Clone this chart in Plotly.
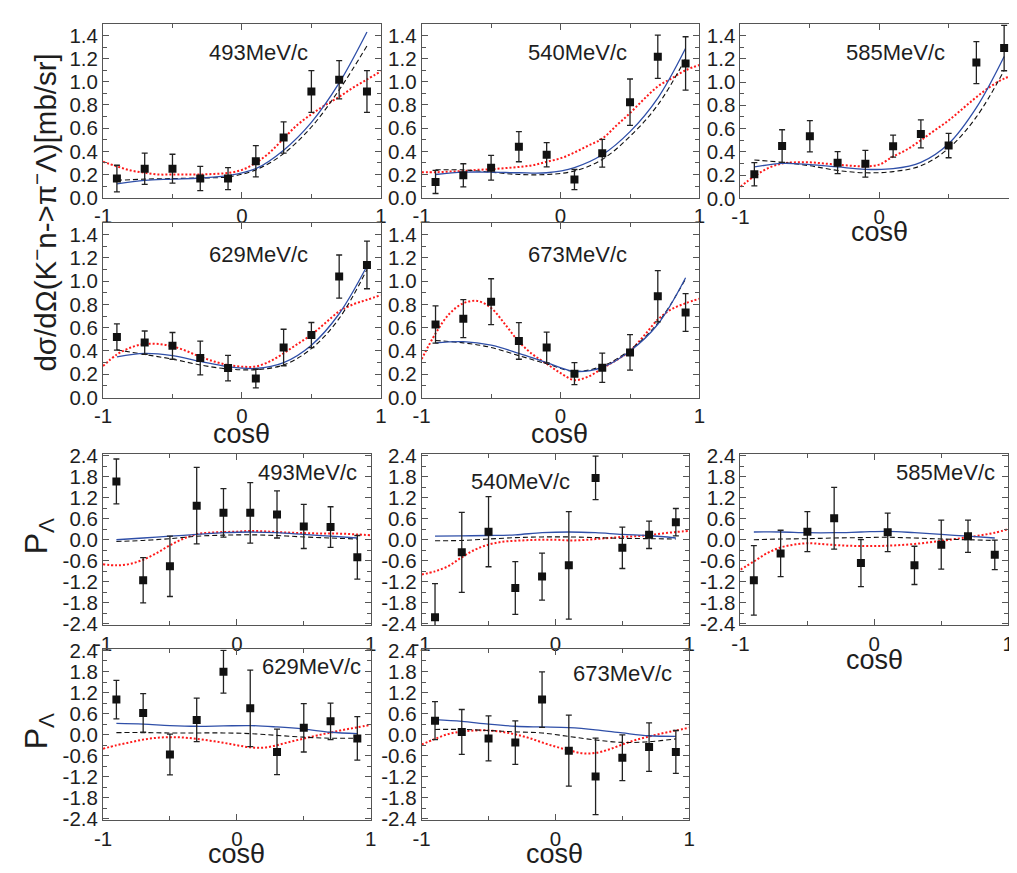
import plotly.graph_objects as go

# ---------------- data ----------------
cos_pts = [-0.9, -0.7, -0.5, -0.3, -0.1, 0.1, 0.3, 0.5, 0.7, 0.9]
theory_x = [-0.9, -0.7, -0.5, -0.3, -0.1, 0.1, 0.3, 0.5, 0.7, 0.9]
red_x = [-1.0, -0.9, -0.8, -0.7, -0.6, -0.5, -0.4, -0.3, -0.2, -0.1, 0.0,
         0.1, 0.2, 0.3, 0.4, 0.5, 0.6, 0.7, 0.8, 0.9, 1.0]
momenta = ["493MeV/c", "540MeV/c", "585MeV/c", "629MeV/c", "673MeV/c"]

# differential cross sections [mb/sr]
cs_493_y = [0.165, 0.25, 0.25, 0.165, 0.165, 0.315, 0.52, 0.917, 1.017, 0.917]
cs_493_err = [0.115, 0.135, 0.125, 0.105, 0.095, 0.135, 0.135, 0.18, 0.165, 0.18]
cs_540_y = [0.136, 0.193, 0.258, 0.44, 0.37, 0.156, 0.383, 0.824, 1.216, 1.159]
cs_540_err = [0.1, 0.1, 0.107, 0.13, 0.105, 0.087, 0.12, 0.2, 0.187, 0.23]
cs_585_y = [0.207, 0.45, 0.534, 0.307, 0.298, 0.449, 0.554, 0.454, 1.167, 1.292]
cs_585_err = [0.1, 0.14, 0.135, 0.095, 0.115, 0.095, 0.12, 0.105, 0.18, 0.195]
cs_629_y = [0.52, 0.472, 0.444, 0.34, 0.253, 0.163, 0.43, 0.537, 1.04, 1.14]
cs_629_err = [0.113, 0.1, 0.115, 0.145, 0.11, 0.08, 0.157, 0.108, 0.185, 0.205]
cs_673_y = [0.627, 0.678, 0.824, 0.486, 0.43, 0.205, 0.256, 0.388, 0.871, 0.731]
cs_673_err = [0.16, 0.163, 0.197, 0.157, 0.133, 0.095, 0.126, 0.152, 0.22, 0.162]

cs_493_blue = [0.12, 0.15, 0.16, 0.17, 0.19, 0.25, 0.41, 0.65, 0.99, 1.43]
cs_493_black = [0.15, 0.16, 0.165, 0.17, 0.18, 0.24, 0.38, 0.61, 0.93, 1.31]
cs_493_red = [0.31, 0.27, 0.235, 0.215, 0.2, 0.2, 0.2, 0.2, 0.205, 0.213, 0.24,
              0.3, 0.39, 0.51, 0.63, 0.72, 0.8, 0.87, 0.95, 1.02, 1.09]
cs_540_blue = [0.2, 0.22, 0.22, 0.215, 0.215, 0.26, 0.37, 0.57, 0.86, 1.29]
cs_540_black = [0.24, 0.24, 0.22, 0.2, 0.2, 0.23, 0.33, 0.53, 0.8, 1.2]
cs_540_red = [0.22, 0.22, 0.225, 0.23, 0.24, 0.245, 0.255, 0.265, 0.28, 0.31, 0.34,
              0.39, 0.45, 0.51, 0.62, 0.73, 0.85, 0.96, 1.03, 1.1, 1.145]
cs_585_blue = [0.27, 0.3, 0.29, 0.27, 0.25, 0.255, 0.31, 0.47, 0.78, 1.22]
cs_585_black = [0.33, 0.31, 0.28, 0.24, 0.22, 0.23, 0.28, 0.43, 0.7, 1.1]
cs_585_red = [0.1, 0.19, 0.26, 0.3, 0.31, 0.31, 0.3, 0.29, 0.28, 0.275, 0.29,
              0.36, 0.42, 0.5, 0.585, 0.67, 0.77, 0.87, 0.96, 1.03, 1.075]
cs_629_blue = [0.35, 0.38, 0.36, 0.31, 0.265, 0.25, 0.3, 0.45, 0.72, 1.13]
cs_629_black = [0.41, 0.37, 0.33, 0.28, 0.245, 0.24, 0.28, 0.42, 0.68, 1.1]
cs_629_red = [0.27, 0.37, 0.43, 0.46, 0.46, 0.44, 0.4, 0.35, 0.31, 0.28, 0.265,
              0.267, 0.31, 0.38, 0.46, 0.54, 0.64, 0.74, 0.8, 0.84, 0.88]
cs_673_blue = [0.47, 0.48, 0.45, 0.38, 0.3, 0.225, 0.26, 0.4, 0.63, 1.03]
cs_673_black = [0.49, 0.47, 0.43, 0.36, 0.29, 0.225, 0.27, 0.41, 0.64, 1.02]
cs_673_red = [0.33, 0.55, 0.72, 0.81, 0.83, 0.77, 0.63, 0.48, 0.37, 0.29, 0.21,
              0.15, 0.18, 0.25, 0.32, 0.4, 0.53, 0.67, 0.76, 0.81, 0.85]

# Lambda polarisation
pol_493_y = [1.66, -1.155, -0.757, 0.97, 0.766, 0.766, 0.72, 0.38, 0.36, -0.5]
pol_493_err = [0.64, 0.645, 0.86, 1.09, 0.69, 0.86, 0.67, 0.63, 0.58, 0.62]
pol_540_y = [-2.21, -0.36, 0.23, -1.376, -1.05, -0.73, 1.76, -0.23, 0.14, 0.5]
pol_540_err = [0.96, 1.14, 1.0, 0.75, 0.67, 1.53, 0.62, 0.59, 0.39, 0.39]
pol_585_y = [-1.155, -0.39, 0.23, 0.61, -0.665, 0.21, -0.73, -0.14, 0.1, -0.43]
pol_585_err = [0.99, 0.66, 0.57, 0.88, 0.67, 0.55, 0.545, 0.7, 0.46, 0.42]
pol_629_y = [1.0, 0.62, -0.565, 0.42, 1.795, 0.75, -0.49, 0.197, 0.38, -0.106]
pol_629_err = [0.55, 0.55, 0.58, 0.62, 0.61, 1.09, 0.65, 0.69, 0.52, 0.62]
pol_673_y = [0.4, 0.078, -0.106, -0.225, 1.0, -0.454, -1.19, -0.656, -0.353, -0.49]
pol_673_err = [0.54, 0.64, 0.64, 0.62, 0.79, 1.01, 1.09, 0.65, 0.69, 0.61]

pol_493_blue = [0.0, 0.05, 0.1, 0.15, 0.2, 0.22, 0.2, 0.15, 0.1, 0.05]
pol_493_black = [-0.05, -0.02, 0.03, 0.1, 0.13, 0.14, 0.12, 0.08, 0.05, 0.02]
pol_493_red = [-0.7, -0.73, -0.69, -0.57, -0.38, -0.16, 0.03, 0.16, 0.2, 0.22, 0.23,
               0.25, 0.24, 0.22, 0.2, 0.19, 0.18, 0.18, 0.17, 0.15, 0.13]
pol_540_blue = [0.1, 0.11, 0.12, 0.14, 0.2, 0.22, 0.2, 0.15, 0.12, 0.05]
pol_540_black = [-0.03, -0.02, 0.02, 0.06, 0.08, 0.08, 0.06, 0.04, 0.03, 0.02]
pol_540_red = [-0.99, -0.9, -0.75, -0.5, -0.28, -0.14, -0.06, -0.03, -0.01, 0.0, 0.0,
               -0.02, -0.01, 0.02, 0.05, 0.08, 0.1, 0.13, 0.18, 0.22, 0.25]
pol_585_blue = [0.22, 0.22, 0.2, 0.2, 0.22, 0.24, 0.2, 0.15, 0.1, 0.05]
pol_585_black = [0.0, 0.02, 0.03, 0.05, 0.06, 0.07, 0.05, 0.02, 0.0, -0.02]
pol_585_red = [-0.85, -0.62, -0.38, -0.22, -0.14, -0.1, -0.12, -0.15, -0.17, -0.18, -0.18,
               -0.17, -0.15, -0.12, -0.08, -0.03, 0.02, 0.07, 0.13, 0.2, 0.3]
pol_629_blue = [0.32, 0.3, 0.26, 0.24, 0.25, 0.26, 0.22, 0.16, 0.07, 0.03]
pol_629_black = [0.06, 0.06, 0.05, 0.05, 0.05, 0.03, -0.02, -0.07, -0.1, -0.1]
pol_629_red = [-0.4, -0.3, -0.22, -0.14, -0.09, -0.07, -0.08, -0.12, -0.17, -0.23, -0.3,
               -0.36, -0.37, -0.3, -0.2, -0.11, -0.02, 0.06, 0.14, 0.21, 0.28]
pol_673_blue = [0.43, 0.38, 0.3, 0.24, 0.22, 0.2, 0.14, 0.05, -0.03, -0.05]
pol_673_black = [0.15, 0.15, 0.12, 0.08, 0.05, -0.05, -0.15, -0.22, -0.2, -0.12]
pol_673_red = [-0.28, -0.12, 0.02, 0.09, 0.12, 0.12, 0.08, 0.01, -0.09, -0.22, -0.34,
               -0.44, -0.53, -0.52, -0.42, -0.28, -0.15, -0.05, 0.04, 0.12, 0.2]

cs_ticks = [0.0, 0.2, 0.4, 0.6, 0.8, 1.0, 1.2, 1.4]
pol_ticks = [-2.4, -1.8, -1.2, -0.6, 0.0, 0.6, 1.2, 1.8, 2.4]
x_ticks = [-1, 0, 1]

# ---------------- layout helpers ----------------
W, H = 1017, 873
FONT = "Liberation Sans, Arial, sans-serif"
TXT = "#1e1e1e"
BLUE = "#2f4fa8"
RED = "#ff1a1a"

# panel boxes in pixels: left, right, top, bottom
boxes = [
    (87.3, 369.3, 5, 183.3), (410.7, 692.7, 5, 183.3), (734.3, 1016, 5, 184),
    (87.3, 369.3, 209.3, 388.3), (410.7, 692.7, 209.3, 388.3),
    (87.3, 359, 446.7, 621.7), (410.7, 682.3, 446.7, 621.7), (734.3, 1006, 446.7, 621.7),
    (87.3, 359, 646.7, 821.7), (410.7, 682.3, 646.7, 821.7),
]

panels = [
    ("cs", cs_493_y, cs_493_err, cs_493_blue, cs_493_black, cs_493_red, momenta[0], 0.12, 1.25),
    ("cs", cs_540_y, cs_540_err, cs_540_blue, cs_540_black, cs_540_red, momenta[1], 0.12, 1.25),
    ("cs", cs_585_y, cs_585_err, cs_585_blue, cs_585_black, cs_585_red, momenta[2], 0.12, 1.25),
    ("cs", cs_629_y, cs_629_err, cs_629_blue, cs_629_black, cs_629_red, momenta[3], 0.12, 1.23),
    ("cs", cs_673_y, cs_673_err, cs_673_blue, cs_673_black, cs_673_red, momenta[4], 0.12, 1.23),
    ("pol", pol_493_y, pol_493_err, pol_493_blue, pol_493_black, pol_493_red, momenta[0], 0.53, 1.92),
    ("pol", pol_540_y, pol_540_err, pol_540_blue, pol_540_black, pol_540_red, momenta[1], -0.26, 1.66),
    ("pol", pol_585_y, pol_585_err, pol_585_blue, pol_585_black, pol_585_red, momenta[2], 0.53, 1.92),
    ("pol", pol_629_y, pol_629_err, pol_629_blue, pol_629_black, pol_629_red, momenta[3], 0.56, 1.93),
    ("pol", pol_673_y, pol_673_err, pol_673_blue, pol_673_black, pol_673_red, momenta[4], 0.50, 1.73),
]

fig = go.Figure()
annotations = []

for i, (kind, y, err, blue, black, red, label, lx, ly) in enumerate(panels):
    n = i + 1
    xa = "x" if n == 1 else f"x{n}"
    ya = "y" if n == 1 else f"y{n}"
    l, r, t, b = boxes[i]
    xkey = "xaxis" if n == 1 else f"xaxis{n}"
    ykey = "yaxis" if n == 1 else f"yaxis{n}"

    fig.add_trace(go.Scatter(x=red_x, y=red, xaxis=xa, yaxis=ya, mode="lines",
                             line=dict(color=RED, width=2, dash="2px,2px", shape="spline"),
                             showlegend=False, hoverinfo="skip"))
    fig.add_trace(go.Scatter(x=theory_x, y=black, xaxis=xa, yaxis=ya, mode="lines",
                             line=dict(color="#111111", width=1.1, dash="5px,3px", shape="spline"),
                             showlegend=False, hoverinfo="skip"))
    fig.add_trace(go.Scatter(x=theory_x, y=blue, xaxis=xa, yaxis=ya, mode="lines",
                             line=dict(color=BLUE, width=1.3, shape="spline"),
                             showlegend=False, hoverinfo="skip"))
    fig.add_trace(go.Scatter(x=cos_pts, y=y, xaxis=xa, yaxis=ya, mode="markers",
                             marker=dict(symbol="square", size=8, color="#111111"),
                             error_y=dict(type="data", array=err, visible=True,
                                          color="#222222", thickness=1.3, width=3),
                             showlegend=False))

    axcommon = dict(showline=True, linecolor="#555555", linewidth=1, mirror="ticks",
                    ticks="inside", ticklen=6, tickcolor="#555555", tickwidth=1,
                    showgrid=False, zeroline=False,
                    tickfont=dict(family=FONT, size=20.5, color=TXT))
    fig.layout[xkey] = dict(domain=[l / W, r / W], anchor=ya, range=[-1, 1],
                            tickvals=x_ticks, ticktext=["-1", "0", "1"],
                            minor=dict(dtick=0.5, ticks="inside", ticklen=4, tickcolor="#555555"),
                            **axcommon)
    if kind == "cs":
        fig.layout[ykey] = dict(domain=[1 - b / H, 1 - t / H], anchor=xa, range=[0, 1.5],
                                tickvals=cs_ticks, ticktext=[f"{v:.1f}" for v in cs_ticks],
                                minor=dict(dtick=0.1, ticks="inside", ticklen=4, tickcolor="#555555"),
                                **axcommon)
    else:
        fig.layout[ykey] = dict(domain=[1 - b / H, 1 - t / H], anchor=xa, range=[-2.43, 2.43],
                                tickvals=pol_ticks, ticktext=[f"{v:.1f}" for v in pol_ticks],
                                minor=dict(dtick=0.3, ticks="inside", ticklen=4, tickcolor="#555555"),
                                **axcommon)
    annotations.append(dict(x=lx, y=ly, xref=xa, yref=ya, text=label, showarrow=False,
                            xanchor="center", yanchor="middle",
                            font=dict(family=FONT, size=22, color=TXT)))

# cos(theta) labels
for (px, py) in [(875, 218), (228, 426), (551, 426), (870, 658), (223, 857), (546, 857)]:
    annotations.append(dict(x=px / W, y=1 - py / H, xref="paper", yref="paper", text="cosθ",
                            showarrow=False, xanchor="center", yanchor="middle",
                            font=dict(family=FONT, size=27, color=TXT)))

# y-axis titles
annotations.append(dict(x=27 / W, y=1 - 199 / H, xref="paper", yref="paper",
                        text="dσ/dΩ(K<sup>−</sup>n->π<sup>−</sup>Λ)[mb/sr]", textangle=-90,
                        showarrow=False, xanchor="center", yanchor="middle",
                        font=dict(family=FONT, size=29.5, color=TXT)))
for py in [531, 731]:
    annotations.append(dict(x=22 / W, y=1 - py / H, xref="paper", yref="paper",
                            text="P<sub>Λ</sub>", textangle=-90,
                            showarrow=False, xanchor="center", yanchor="middle",
                            font=dict(family=FONT, size=32, color=TXT)))

fig.update_layout(width=W, height=H, margin=dict(l=0, r=0, t=0, b=0),
                  paper_bgcolor="white", plot_bgcolor="white",
                  annotations=annotations, showlegend=False)

fig.write_html("out.html")
